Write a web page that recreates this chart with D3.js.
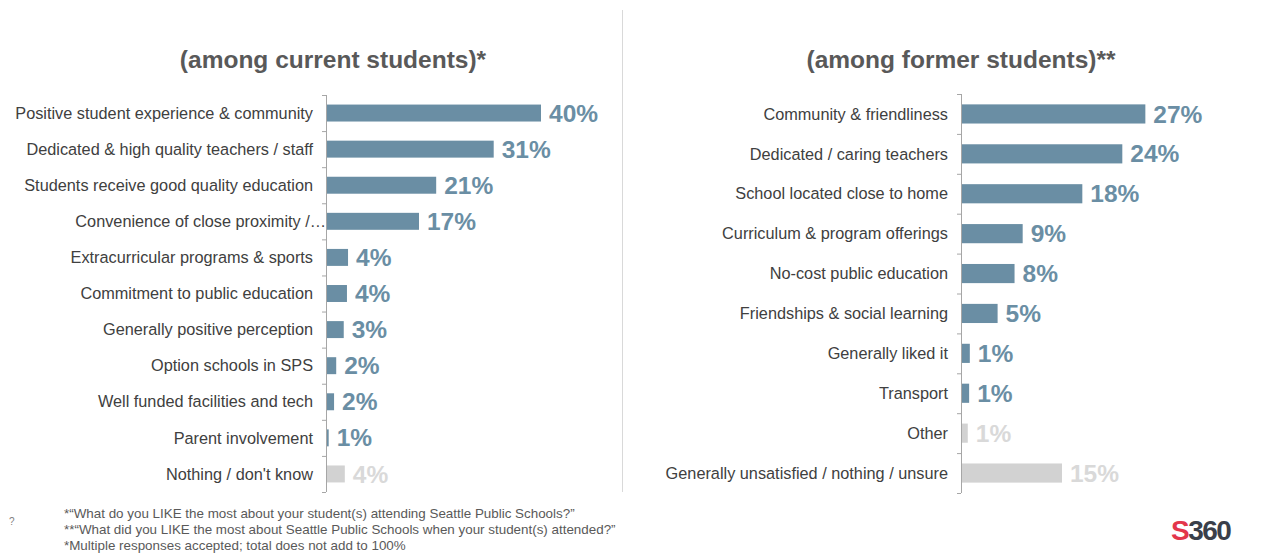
<!DOCTYPE html>
<html>
<head>
<meta charset="utf-8">
<script src="https://cdn.jsdelivr.net/npm/d3@7"></script>
<style>
  body { margin: 0; background: #fff; }
  text { font-family: "Liberation Sans", Arial, sans-serif; }
</style>
</head>
<body>
<div id="chart"></div>
<script>
// left panel: current students
var curCats = ['Positive student experience & community', 'Dedicated & high quality teachers / staff',
    'Students receive good quality education', 'Convenience of close proximity /\u2026',
    'Extracurricular programs & sports', 'Commitment to public education', 'Generally positive perception',
    'Option schools in SPS', 'Well funded facilities and tech', 'Parent involvement', "Nothing / don't know"];
var curVals = [40, 31.2, 20.5, 17.3, 4.1, 3.9, 3.3, 1.9, 1.5, 0.5, 3.5];
var curGray = [false, false, false, false, false, false, false, false, false, false, true];

// right panel: former students
var formCats = ['Community & friendliness', 'Dedicated / caring teachers', 'School located close to home',
    'Curriculum & program offerings', 'No-cost public education', 'Friendships & social learning',
    'Generally liked it', 'Transport', 'Other', 'Generally unsatisfied / nothing / unsure'];
var formVals = [27.2, 23.8, 17.9, 9.1, 7.9, 5.4, 1.3, 1.2, 1.0, 14.9];
var formGray = [false, false, false, false, false, false, false, false, true, true];

var footnotes = ['*\u201cWhat do you LIKE the most about your student(s) attending Seattle Public Schools?\u201d',
    '**\u201cWhat did you LIKE the most about Seattle Public Schools when your student(s) attended?\u201d',
    '*Multiple responses accepted; total does not add to 100%'];

var W = 1267, H = 557;
var blue = '#6a8ea4', gray = '#d2d2d2', grayTxt = '#d9d9d9';

var svg = d3.select('#chart').append('svg')
    .attr('width', W).attr('height', H);

// divider between panels
svg.append('line')
    .attr('x1', 622.5).attr('x2', 622.5).attr('y1', 10).attr('y2', 492)
    .attr('stroke', '#d9d9d9').attr('stroke-width', 1);

function panel(cfg) {
    var g = svg.append('g');

    var x = d3.scaleLinear().domain([0, cfg.maxV]).range([cfg.x0, cfg.x0 + cfg.maxPx]);
    var y = d3.scaleBand().domain(cfg.cats).range(cfg.yRange).paddingInner(cfg.pad).paddingOuter(cfg.pad / 2);

    g.append('text')
        .attr('x', cfg.titleX).attr('y', 68)
        .attr('text-anchor', 'middle')
        .attr('font-size', 24.5).attr('font-weight', 'bold')
        .attr('fill', '#595959')
        .text(cfg.title);

    // bars
    g.selectAll('rect.bar')
        .data(cfg.vals)
        .enter().append('rect')
        .attr('class', 'bar')
        .attr('x', x(0))
        .attr('y', function(d, i){ return y(cfg.cats[i]); })
        .attr('width', function(d){ return x(d) - x(0); })
        .attr('height', y.bandwidth())
        .attr('fill', function(d, i){ return cfg.gray[i] ? gray : blue; });

    // axis line with ticks at band edges
    var yr = y.range();
    g.append('line')
        .attr('x1', x(0) + 0.5).attr('x2', x(0) + 0.5)
        .attr('y1', yr[0]).attr('y2', yr[1])
        .attr('stroke', '#a6a6a6');
    var edges = d3.range(cfg.cats.length + 1).map(function(i){ return yr[0] + i * y.step(); });
    g.selectAll('line.tick')
        .data(edges)
        .enter().append('line')
        .attr('class', 'tick')
        .attr('x1', x(0) - 4).attr('x2', x(0))
        .attr('y1', function(d){ return d + 0.5; }).attr('y2', function(d){ return d + 0.5; })
        .attr('stroke', '#a6a6a6');

    // category labels (the truncated one runs over the axis, as in the source)
    g.selectAll('text.cat')
        .data(cfg.cats)
        .enter().append('text')
        .attr('class', 'cat')
        .attr('x', function(d){ return x(0) - (/\u2026$/.test(d) ? 0 : 13); })
        .attr('y', function(d){ return y(d) + y.bandwidth() / 2; })
        .attr('dy', '0.35em')
        .attr('text-anchor', 'end')
        .attr('font-size', 16.3)
        .attr('fill', '#404040')
        .text(function(d){ return d; });

    // value labels
    g.selectAll('text.val')
        .data(cfg.vals)
        .enter().append('text')
        .attr('class', 'val')
        .attr('x', function(d){ return x(d) + 8; })
        .attr('y', function(d, i){ return y(cfg.cats[i]) + y.bandwidth() / 2; })
        .attr('dy', '0.35em')
        .attr('font-size', 24.5).attr('font-weight', 'bold')
        .attr('fill', function(d, i){ return cfg.gray[i] ? grayTxt : blue; })
        .text(function(d){ return Math.round(d) + '%'; });
}

panel({ cats: curCats, vals: curVals, gray: curGray, title: '(among current students)*',
    titleX: 333, x0: 326, maxV: 40, maxPx: 215, yRange: [95, 492], pad: 0.53 });
panel({ cats: formCats, vals: formVals, gray: formGray, title: '(among former students)**',
    titleX: 961, x0: 961, maxV: 27, maxPx: 183, yRange: [94, 493], pad: 0.52 });

// footnotes
svg.selectAll('text.foot')
    .data(footnotes)
    .enter().append('text')
    .attr('class', 'foot')
    .attr('x', 64)
    .attr('y', function(d, i){ return 518 + i * 16; })
    .attr('font-size', 13.4)
    .attr('fill', '#595959')
    .text(function(d){ return d; });

svg.append('text')
    .attr('x', 9).attr('y', 525)
    .attr('font-size', 10).attr('fill', '#7f7f7f')
    .text('?');

// logo
var logo = svg.append('text')
    .attr('x', 1171).attr('y', 540)
    .attr('font-size', 28).attr('font-weight', 'bold')
    .attr('letter-spacing', -1.5);
logo.append('tspan').attr('fill', '#e3364b').text('S');
logo.append('tspan').attr('fill', '#3a3f4a').text('360');
</script>
</body>
</html>
